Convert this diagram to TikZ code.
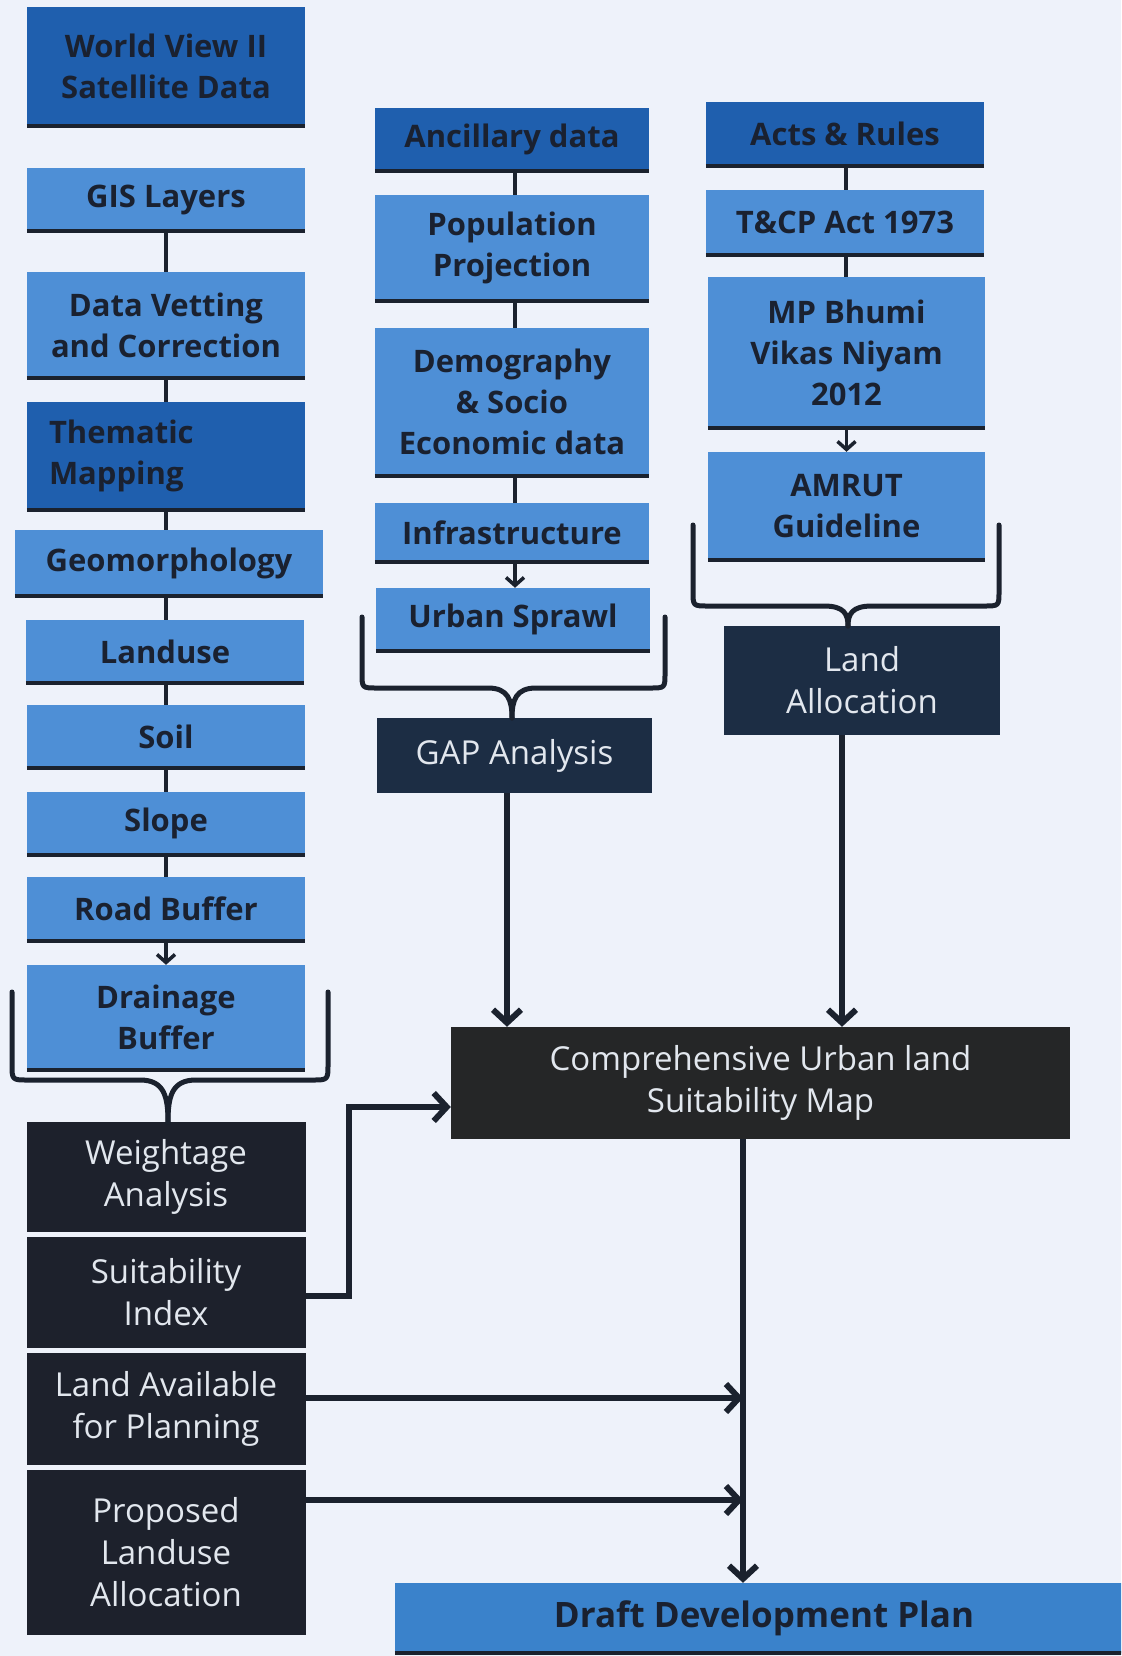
\documentclass[tikz,border=0pt]{standalone}
\usepackage{fontspec}
\setmainfont{Open Sans}
\usetikzlibrary{arrows.meta}

\definecolor{bgpaper}{HTML}{EEF2FA}
\definecolor{deepblue}{HTML}{1F5FAE}
\definecolor{skyblue}{HTML}{4E8FD6}
\definecolor{navybox}{HTML}{1C2D44}
\definecolor{inkbox}{HTML}{1D212C}
\definecolor{charbox}{HTML}{252627}
\definecolor{planblue}{HTML}{3A82CB}
\definecolor{inktext}{HTML}{1A2130}
\definecolor{paletext}{HTML}{E2E7EE}
\definecolor{edgeink}{HTML}{1B222E}

\tikzset{
  boxbase/.style={rectangle, inner sep=0pt, align=center},
  litebox/.style={boxbase, fill=skyblue, text=inktext,
    font=\bfseries\fontsize{31}{41}\selectfont},
  deepbox/.style={litebox, fill=deepblue},
  navy/.style={boxbase, fill=navybox, text=paletext,
    font=\fontsize{33}{42}\selectfont},
  inky/.style={navy, fill=inkbox},
  charry/.style={navy, fill=charbox},
  planbox/.style={boxbase, fill=planblue, text=inktext,
    font=\bfseries\fontsize{35}{42}\selectfont},
  underrule/.style={draw=edgeink, line width=4pt},
  link/.style={draw=edgeink, line width=4pt},
  smallarrow/.style={draw=edgeink, line width=3.5pt,
    -{Straight Barb[length=8pt,width=18pt]}},
  bigarrow/.style={draw=edgeink, line width=6pt,
    -{Straight Barb[length=13pt,width=28pt]}},
  bracket/.style={draw=edgeink, line width=5pt, line join=round, line cap=round},
}

\begin{document}
\begin{tikzpicture}[x=1pt,y=-1pt]
\useasboundingbox (0,0) rectangle (1121,1656);
\clip (0,0) rectangle (1121,1656);
\fill[bgpaper] (0,0) rectangle (1121,1656);

% ---------- left column: GIS data chain ----------
\node[deepbox, minimum width=278pt, minimum height=119pt] (wv) at (166,66.5) {World View II\\Satellite Data};
\node[litebox, minimum width=278pt, minimum height=63pt] (gis) at (166,199.5) {GIS Layers};
\node[litebox, minimum width=278pt, minimum height=106pt] (dvc) at (166,325) {Data Vetting\\and Correction};
\node[deepbox, minimum width=278pt, minimum height=108pt, align=left,
      text width=234pt, inner xsep=22pt] (them) at (166,456) {Thematic\\Mapping};
\node[litebox, minimum width=308pt, minimum height=66pt] (geo) at (169,563) {Geomorphology};
\node[litebox, minimum width=278pt, minimum height=63pt] (land) at (165,651.5) {Landuse};
\node[litebox, minimum width=278pt, minimum height=63pt] (soil) at (166,736.5) {Soil};
\node[litebox, minimum width=278pt, minimum height=63pt] (slope) at (166,823.5) {Slope};
\node[litebox, minimum width=278pt, minimum height=64pt] (road) at (166,909) {Road Buffer};
\node[litebox, minimum width=278pt, minimum height=105pt] (drain) at (166,1017.5) {Drainage\\Buffer};

\node[inky, minimum width=279pt, minimum height=110pt] (wa) at (166,1177) {Weightage\\Analysis};
\node[inky, minimum width=279pt, minimum height=111pt] (si) at (166,1292.5) {Suitability\\Index};
\node[inky, minimum width=279pt, minimum height=112pt] (la) at (166,1409) {Land Available\\for Planning};
\node[inky, minimum width=279pt, minimum height=165pt] (pla) at (166,1552.5) {Proposed\\Landuse\\Allocation};

% ---------- middle column: ancillary data ----------
\node[deepbox, minimum width=274pt, minimum height=63pt] (anc) at (512,139.5) {Ancillary data};
\node[litebox, minimum width=274pt, minimum height=106pt] (pop) at (512,248) {Population\\Projection};
\node[litebox, minimum width=274pt, minimum height=148pt] (demo) at (512,402) {Demography\\\& Socio\\Economic data};
\node[litebox, minimum width=274pt, minimum height=59pt] (infra) at (512,532.5) {Infrastructure};
\node[litebox, minimum width=274pt, minimum height=63pt] (urban) at (513,619.5) {Urban Sprawl};
\node[navy, minimum width=275pt, minimum height=75pt] (gap) at (514.5,755.5) {GAP Analysis};

% ---------- right column: acts and rules ----------
\node[deepbox, minimum width=278pt, minimum height=64pt] (acts) at (845,134) {Acts \& Rules};
\node[litebox, minimum width=278pt, minimum height=65pt] (tcp) at (845,222.5) {T\&CP Act 1973};
\node[litebox, minimum width=277pt, minimum height=151pt] (mpb) at (846.5,352.5) {MP Bhumi\\Vikas Niyam\\2012};
\node[litebox, minimum width=277pt, minimum height=108pt] (amrut) at (846.5,506) {AMRUT\\Guideline};
\node[navy, minimum width=276pt, minimum height=109pt] (lal) at (862,680.5) {Land\\Allocation};

% ---------- outputs ----------
\node[charry, minimum width=619pt, minimum height=112pt] (comp) at (760.5,1083) {Comprehensive Urban land\\Suitability Map};
\node[planbox, minimum width=738pt, minimum height=70pt] (draft) at (764,1618) {Draft Development Plan};

% dark rule along the lower edge of the blue boxes
\foreach \n in {wv,gis,dvc,them,geo,land,soil,slope,road,drain,anc,pop,demo,infra,urban,acts,tcp,mpb,amrut,draft}
  \draw[underrule] (\n.south west) -- (\n.south east);

% ---------- column links ----------
\draw[link] (gis.south) -- (dvc.north);
\draw[link] (dvc.south) -- (them.north);
\draw[link] (them.south) -- (them.south |- geo.north);
\draw[link] (them.south |- geo.south) -- (them.south |- land.north);
\draw[link] (soil.north) -- (soil.north |- land.south);
\draw[link] (soil.south) -- (slope.north);
\draw[link] (slope.south) -- (road.north);
\draw[smallarrow] (road.south) -- (drain.north);

\draw[link] ([xshift=3pt]anc.south) -- ([xshift=3pt]pop.north);
\draw[link] ([xshift=3pt]pop.south) -- ([xshift=3pt]demo.north);
\draw[link] ([xshift=3pt]demo.south) -- ([xshift=3pt]infra.north);
\draw[smallarrow] ([xshift=3pt]infra.south) -- ([xshift=3pt]infra.south |- urban.north);

\draw[link] ([xshift=1pt]acts.south) -- ([xshift=1pt]tcp.north);
\draw[link] ([xshift=1pt]tcp.south) -- ([xshift=1pt]tcp.south |- mpb.north);
\draw[smallarrow] (mpb.south) -- (amrut.north);

% ---------- grouping braces ----------
\coordinate (tipL) at (168,1122);
\coordinate (tipM) at (512,718);
\coordinate (tipR) at (848,626);

\draw[bracket] (12,992) -- (12,1064) .. controls (12,1080) .. (28,1080) -- (140,1080)
  .. controls (164,1080) and (168,1096) .. (tipL);
\draw[bracket] (328,992) -- (328,1064) .. controls (328,1080) .. (312,1080) -- (196,1080)
  .. controls (172,1080) and (168,1096) .. (tipL);

\draw[bracket] (362,617) -- (362,673) .. controls (362,688) .. (377,688) -- (488,688)
  .. controls (508,688) and (512,700) .. (tipM);
\draw[bracket] (665,617) -- (665,673) .. controls (665,688) .. (650,688) -- (536,688)
  .. controls (516,688) and (512,700) .. (tipM);

\draw[bracket] (693,525) -- (693,591) .. controls (693,606) .. (708,606) -- (824,606)
  .. controls (844,606) and (848,614) .. (tipR);
\draw[bracket] (999,525) -- (999,591) .. controls (999,606) .. (984,606) -- (872,606)
  .. controls (852,606) and (848,614) .. (tipR);

% ---------- flow into the suitability map and the plan ----------
\draw[bigarrow] ([xshift=-7.5pt]gap.south) -- ([xshift=-7.5pt]gap.south |- comp.north);
\draw[bigarrow] ([xshift=-20pt]lal.south) -- ([xshift=-20pt]lal.south |- comp.north);
\draw[bigarrow] ([yshift=-3pt]si.east) -- ++(43,0) |- ([yshift=-24pt]comp.west);

\coordinate (spine) at ([xshift=-17.5pt]comp.south);
\draw[bigarrow] (spine) -- (spine |- draft.north);
\draw[bigarrow] ([yshift=11pt]la.east) -- ([yshift=11pt]la.east -| spine);
\draw[bigarrow] ([yshift=52.5pt]pla.east) -- ([yshift=52.5pt]pla.east -| spine);
\end{tikzpicture}
\end{document}
